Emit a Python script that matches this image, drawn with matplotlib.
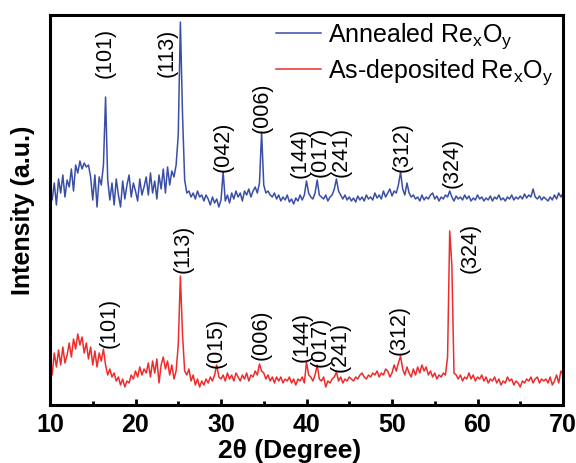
import numpy as np
import matplotlib
matplotlib.use('Agg')
import matplotlib.pyplot as plt

plt.rcParams['font.family'] = ['Liberation Sans', 'DejaVu Sans']
plt.rcParams['mathtext.default'] = 'regular'

## Данные (2θ от 10 до 70 с шагом 0.25, интенсивность в отн. ед.)
two_theta = np.arange(10, 70.01, 0.25)

annealed = [
    215, 205, 222, 200,  # 10
    226, 212, 230, 208,  # 11
    225, 218, 236, 214,  # 12
    240, 232, 244, 236,  # 13
    242, 238, 240, 228,  # 14
    205, 230, 198, 228,  # 15
    220, 240, 308, 225,  # 16
    205, 222, 200, 226,  # 17
    210, 198, 224, 206,  # 18
    220, 230, 208, 222,  # 19
    214, 204, 226, 210,  # 20
    218, 228, 210, 232,  # 21
    212, 224, 206, 230,  # 22
    216, 236, 212, 238,  # 23
    220, 234, 228, 240,  # 24
    270, 383, 290, 225,  # 25
    212, 214, 208, 212,  # 26
    206, 214, 208, 210,  # 27
    204, 210, 206, 200,  # 28
    208, 202, 206, 198,  # 29
    205, 233, 204, 210,  # 30
    202, 212, 206, 214,  # 31
    208, 212, 204, 214,  # 32
    210, 216, 208, 214,  # 33
    218, 212, 222, 273,  # 34
    220, 212, 214, 210,  # 35
    208, 212, 206, 210,  # 36
    204, 208, 205, 210,  # 37
    203, 206, 201, 207,  # 38
    204, 210, 205, 210,  # 39
    224, 212, 208, 206,  # 40
    212, 225, 210, 208,  # 41
    206, 210, 204, 208,  # 42
    210, 216, 226, 214,  # 43
    210, 206, 210, 205,  # 44
    208, 204, 207, 203,  # 45
    209, 205, 208, 204,  # 46
    210, 206, 208, 205,  # 47
    212, 207, 210, 206,  # 48
    214, 208, 212, 216,  # 49
    209, 214, 212, 220,  # 50
    233, 216, 210, 222,  # 51
    212, 208, 210, 206,  # 52
    208, 204, 210, 205,  # 53
    208, 206, 210, 212,  # 54
    206, 209, 204, 208,  # 55
    206, 210, 208, 214,  # 56
    208, 204, 209, 206,  # 57
    208, 205, 210, 206,  # 58
    209, 204, 207, 205,  # 59
    210, 206, 208, 204,  # 60
    207, 205, 209, 204,  # 61
    208, 206, 210, 205,  # 62
    207, 204, 208, 206,  # 63
    210, 205, 208, 206,  # 64
    209, 206, 211, 207,  # 65
    210, 208, 216, 208,  # 66
    206, 209, 205, 208,  # 67
    206, 204, 208, 205,  # 68
    210, 206, 212, 208,  # 69
    212,                 # 70
]

as_deposited = [
    45, 30, 52, 38,   # 10
    55, 40, 58, 42,   # 11
    50, 62, 48, 66,   # 12
    56, 71, 60, 68,   # 13
    52, 62, 46, 58,   # 14
    40, 54, 38, 52,   # 15
    44, 56, 40, 30,   # 16
    36, 28, 32, 24,   # 17
    28, 20, 26, 18,   # 18
    24, 22, 30, 26,   # 19
    34, 28, 38, 30,   # 20
    36, 32, 42, 28,   # 21
    44, 32, 46, 22,   # 22
    40, 48, 36, 44,   # 23
    30, 40, 26, 34,   # 24
    60, 129, 70, 34,  # 25
    30, 36, 24, 30,   # 26
    20, 26, 18, 24,   # 27
    20, 26, 22, 28,   # 28
    24, 30, 40, 28,   # 29
    26, 30, 24, 32,   # 30
    26, 30, 24, 32,   # 31
    28, 24, 30, 26,   # 32
    32, 24, 30, 28,   # 33
    34, 30, 41, 34,   # 34
    32, 26, 30, 24,   # 35
    28, 22, 28, 24,   # 36
    28, 22, 26, 24,   # 37
    28, 22, 26, 20,   # 38
    26, 24, 28, 22,   # 39
    43, 30, 28, 24,   # 40
    30, 40, 26, 24,   # 41
    28, 18, 24, 22,   # 42
    26, 28, 33, 24,   # 43
    28, 22, 26, 24,   # 44
    28, 26, 24, 28,   # 45
    26, 30, 32, 28,   # 46
    26, 30, 28, 32,   # 47
    30, 34, 28, 32,   # 48
    30, 36, 34, 28,   # 49
    32, 40, 34, 42,   # 50
    49, 36, 30, 38,   # 51
    32, 28, 36, 30,   # 52
    38, 32, 40, 34,   # 53
    38, 30, 34, 28,   # 54
    32, 26, 30, 28,   # 55
    32, 30, 48, 174,  # 56
    140, 32, 30, 26,  # 57
    30, 24, 28, 26,   # 58
    32, 26, 30, 24,   # 59
    28, 26, 30, 24,   # 60
    28, 22, 26, 24,   # 61
    28, 22, 26, 20,   # 62
    24, 22, 28, 24,   # 63
    26, 20, 24, 22,   # 64
    18, 24, 22, 26,   # 65
    24, 28, 22, 26,   # 66
    28, 22, 26, 24,   # 67
    26, 22, 28, 20,   # 68
    24, 30, 22, 34,   # 69
    30,               # 70
]

# подписи рефлексов: (hkl, 2θ, нижний край подписи)
annealed_peaks = [('(101)', 16.4, 327), ('(113)', 23.7, 328), ('(042)', 30.2, 233),
                  ('(006)', 34.8, 272), ('(144)', 39.2, 227), ('(017)', 41.6, 228),
                  ('(241)', 44.0, 228), ('(312)', 51.2, 233), ('(324)', 57.0, 217)]
deposited_peaks = [('(101)', 16.9, 57), ('(113)', 25.6, 132), ('(015)', 29.4, 37),
                   ('(006)', 34.7, 45), ('(144)', 39.5, 43), ('(017)', 41.6, 38),
                   ('(241)', 43.9, 33), ('(312)', 50.8, 50), ('(324)', 59.1, 132)]

blue = '#3a4ea6'
red = '#ee2c2c'

fig = plt.figure(figsize=(5.76, 4.63), dpi=100)
ax = fig.add_axes([50 / 576, 1 - 405 / 463, 513 / 576, 390 / 463])

ax.plot(two_theta, annealed, color=blue, lw=1.1, label='Annealed Re$_x$O$_y$')
ax.plot(two_theta, as_deposited, color=red, lw=1.1, label='As-deposited Re$_x$O$_y$')

for text, x, y in annealed_peaks + deposited_peaks:
    ax.text(x, y, text, rotation=90, ha='center', va='bottom', fontsize=15.5)

ax.set_xlim(10, 70)
ax.set_ylim(0, 390)
ax.set_xticks(range(10, 71, 10))
ax.set_xticks(range(15, 70, 10), minor=True)
ax.set_yticks([])
ax.tick_params(axis='x', which='major', direction='in', length=4, width=2, pad=6,
               labelsize=18)
ax.tick_params(axis='x', which='minor', direction='in', length=3, width=2)
for label in ax.get_xticklabels():
    label.set_fontweight('bold')
for spine in ax.spines.values():
    spine.set_linewidth(2.2)

ax.set_xlabel('2θ (Degree)', fontsize=19, fontweight='bold')
ax.xaxis.set_label_coords(0.468, -0.088)
ax.set_ylabel('Intensity (a.u.)', fontsize=18, fontweight='bold')
ax.yaxis.set_label_coords(-0.03, 0.5)

ax.legend(loc='upper left', bbox_to_anchor=(0.44, 0.985), frameon=False, fontsize=18,
          handlelength=1.8, handletextpad=0.3, labelspacing=0.25, borderpad=0,
          borderaxespad=0)

fig.savefig('out.png', dpi=100)
